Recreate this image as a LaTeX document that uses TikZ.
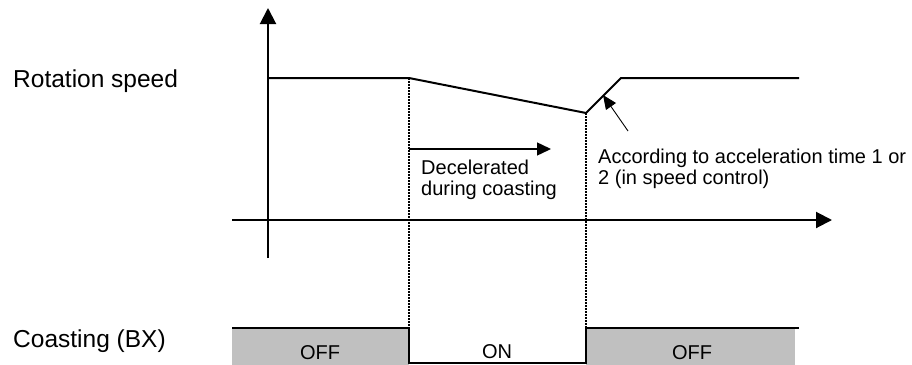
\documentclass[tikz,border=0pt]{standalone}
\usepackage{fontspec}
\setmainfont{Liberation Sans}
\usetikzlibrary{arrows.meta}
\definecolor{offgray}{RGB}{192,192,192}

\begin{document}
\begin{tikzpicture}[x=1pt, y=-1pt,
    biglabel/.style={font=\fontsize{24.5}{28}\selectfont, inner sep=0pt},
    smalllabel/.style={font=\fontsize{20}{20.5}\selectfont, align=left, inner sep=0pt},
    axis/.style={line width=2pt, -{Triangle[length=16pt,width=16pt]}},
    guide/.style={line width=1.6pt, dash pattern=on 2pt off 1pt}]
    \useasboundingbox (0,0) rectangle (912,364);
    % coasting signal
    \fill[offgray] (232,328) rectangle (409,366);
    \fill[offgray] (586,328) rectangle (795,366);
    \draw[line width=1.6pt] (232,328) -- (409,328);
    \draw[line width=1.6pt] (586,328) -- (799,328);
    \draw[line width=1.6pt] (409,328) -- (409,363) -- (586,363) -- (586,328);
    \node[smalllabel, anchor=base] (off1) at (320,359) {OFF};
    \node[smalllabel, anchor=base] (on) at (497,358) {ON};
    \node[smalllabel, anchor=base] (off2) at (692,359) {OFF};

    % axes
    \draw[axis] (268,258) -- (268,8);
    \draw[axis] (232,220) -- (832,220);

    % speed curve
    \draw[line width=2pt] (268,78) -- (409,78) -- (586,113) -- (621,78) -- (799,78);
    \draw[guide] (409,78) -- (409,328);
    \draw[guide] (586,113) -- (586,328);

    \draw[line width=1.4pt, -{Triangle[length=14pt,width=13pt]}] (409,149) -- (551,149);
    \draw[line width=0.9pt, -{Triangle[length=14pt,width=12pt]}] (628,131) -- (603,95);

    \node[biglabel, anchor=base west] (speed) at (13,87) {Rotation speed};
    \node[biglabel, anchor=base west] (coast) at (13,347) {Coasting (BX)};
    \node[smalllabel, anchor=base west] (decel) at (421,195) {Decelerated\\during coasting};
    \node[smalllabel, anchor=base west] (accel) at (598,184) {According to acceleration time 1 or\\2 (in speed control)};
\end{tikzpicture}
\end{document}
